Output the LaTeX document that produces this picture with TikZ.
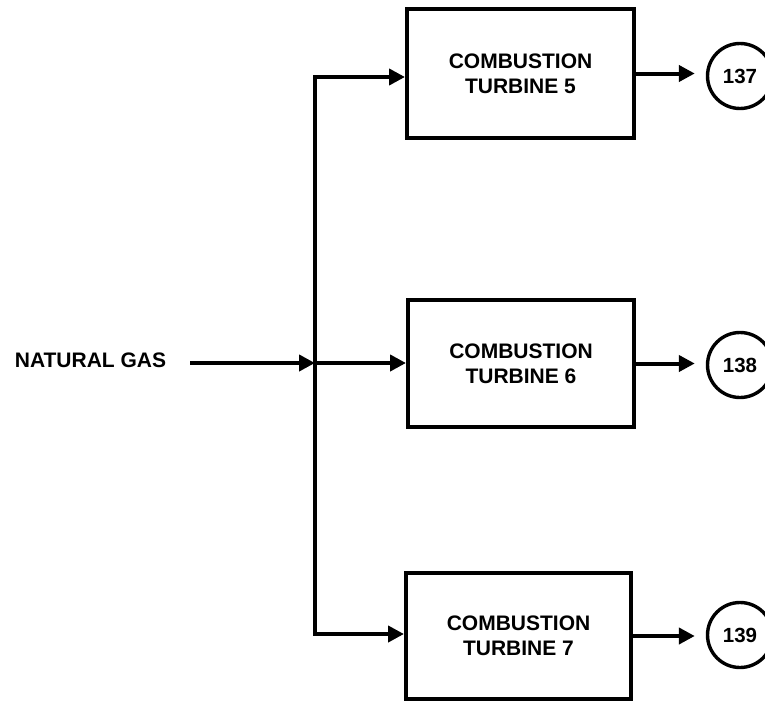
\documentclass[tikz,border=0pt]{standalone}
\usepackage{fontspec}
\setmainfont{Liberation Sans}
\usetikzlibrary{arrows.meta}
\begin{document}
\begin{tikzpicture}[x=1pt,y=-1pt,
  unitbox/.style={draw, line width=4pt, rectangle, align=center, inner sep=0pt,
    font=\bfseries\fontsize{21}{25}\selectfont},
  stream/.style={draw, circle, line width=3.4pt, inner sep=0pt, minimum size=65pt,
    font=\bfseries\fontsize{20.5}{24}\selectfont},
  flow/.style={line width=4pt, -{Triangle[length=16pt,width=16pt]}},
  lbl/.style={font=\bfseries\fontsize{21}{25}\selectfont, inner sep=0pt}]
\useasboundingbox (0,0) rectangle (765,701);
% units
\node[unitbox, minimum width=227pt, minimum height=129pt] (b5) at (520.5,73.5) {COMBUSTION\\TURBINE 5};
\node[unitbox, minimum width=226pt, minimum height=127pt] (b6) at (521,363.5) {COMBUSTION\\TURBINE 6};
\node[unitbox, minimum width=225pt, minimum height=126pt] (b7) at (518.5,636) {COMBUSTION\\TURBINE 7};
% stream circles
\node[stream] (c5) at (740,76) {137};
\node[stream] (c6) at (740,365) {138};
\node[stream] (c7) at (740,635) {139};
% feed
\node[lbl] (gas) at (90.5,360) {NATURAL GAS};
\coordinate (gasout) at (190,363);
\coordinate (j5) at (315,77);
\coordinate (j6) at (315,363);
\coordinate (j7) at (315,634);
\draw[flow] (gasout) -- (j6);
\draw[flow] (j7) -- (j5) -- (j5 -| b5.west);
\draw[flow] (j5) -- (j7) -- (j7 -| b7.west);
\draw[flow] (j6) -- (j6 -| b6.west);
% outputs
\draw[flow, shorten >=11pt] (b5.east) -- (b5.east -| c5.west);
\draw[flow, shorten >=11pt] (b6.east) -- (b6.east -| c6.west);
\draw[flow, shorten >=11pt] (b7.east) -- (b7.east -| c7.west);
\end{tikzpicture}
\end{document}
